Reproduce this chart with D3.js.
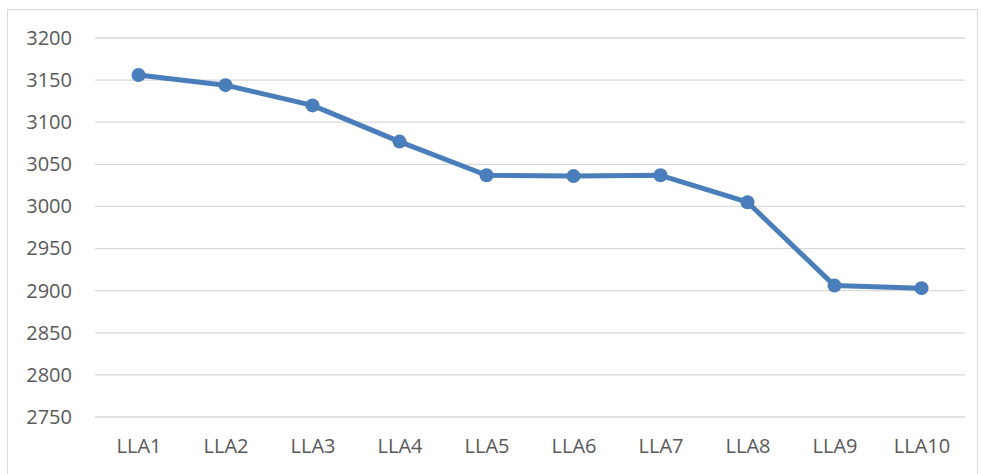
<!DOCTYPE html>
<html>
<head>
<meta charset="utf-8">
<style>
    body { margin: 0; background: #fff; }
    .tick text { font-family: "Open Sans", sans-serif; font-size: 20px; fill: #595959; }
</style>
<script src="https://d3js.org/d3.v7.min.js"></script>
</head>
<body>
<div id="chart"></div>
<script>
var categories = ["LLA1", "LLA2", "LLA3", "LLA4", "LLA5", "LLA6", "LLA7", "LLA8", "LLA9", "LLA10"];
var values = [3156, 3144, 3120, 3077, 3037, 3036, 3037, 3005, 2906, 2903];
var yTicks = [2750, 2800, 2850, 2900, 2950, 3000, 3050, 3100, 3150, 3200];

var W = 982, H = 474;
var plotLeft = 95, plotRight = 965, plotTop = 38, plotBottom = 417;

var svg = d3.select("#chart").append("svg")
    .attr("width", W)
    .attr("height", H);

// chart border
svg.append("rect")
    .attr("x", 7.5).attr("y", 9.5)
    .attr("width", 970).attr("height", 480)
    .attr("fill", "none")
    .attr("stroke", "#d9d9d9");

var x = d3.scalePoint().domain(categories).range([plotLeft, plotRight]).padding(0.5);
var y = d3.scaleLinear().domain([2750, 3200]).range([plotBottom, plotTop]);

// gridlines
svg.append("g")
    .selectAll("line")
    .data(yTicks)
    .enter().append("line")
    .attr("x1", plotLeft).attr("x2", plotRight)
    .attr("y1", d => y(d)).attr("y2", d => y(d))
    .attr("stroke", "#d9d9d9")
    .attr("stroke-width", 1.3);

// y axis labels
var yAxis = svg.append("g")
    .attr("transform", "translate(" + (plotLeft - 10) + ",0)")
    .call(d3.axisLeft(y).tickValues(yTicks).tickFormat(d3.format("d")).tickSize(0).tickPadding(13));
yAxis.select(".domain").remove();

// x axis labels
var xAxis = svg.append("g")
    .attr("transform", "translate(0," + plotBottom + ")")
    .call(d3.axisBottom(x).tickSize(0).tickPadding(22));
xAxis.select(".domain").remove();

// line
var line = d3.line()
    .x((d, i) => x(categories[i]))
    .y(d => y(d));

svg.append("path")
    .datum(values)
    .attr("d", line)
    .attr("fill", "none")
    .attr("stroke", "#4a7ebb")
    .attr("stroke-width", 5)
    .attr("stroke-linejoin", "round");

svg.selectAll(".dot")
    .data(values)
    .enter().append("circle")
    .attr("class", "dot")
    .attr("cx", (d, i) => x(categories[i]))
    .attr("cy", d => y(d))
    .attr("r", 7)
    .attr("fill", "#4a7ebb");
</script>
</body>
</html>
